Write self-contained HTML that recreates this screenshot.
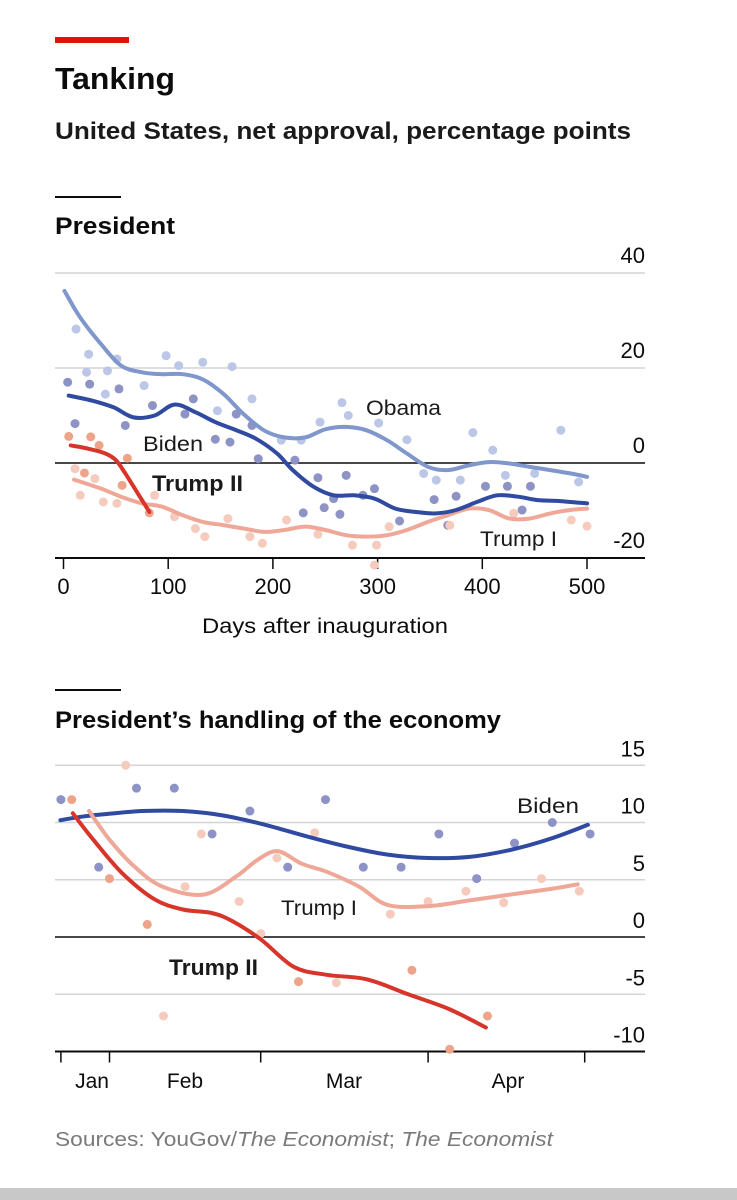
<!DOCTYPE html>
<html><head><meta charset="utf-8"><style>
html,body{margin:0;padding:0;background:#fff;}
svg{display:block;}
text{font-family:"Liberation Sans Narrow","Liberation Sans",sans-serif;}
</style></head><body>
<svg id="s" width="737" height="1200" viewBox="0 0 737 1200">
<rect x="0" y="0" width="737" height="1200" fill="#fff"/>
<rect x="55" y="37" width="74" height="6" fill="#e3120b"/>
<text x="55" y="89" font-size="31" font-weight="bold" fill="#0c0c0c" textLength="120" lengthAdjust="spacingAndGlyphs">Tanking</text>
<text x="55" y="139" font-size="24" font-weight="bold" fill="#1a1a1a" textLength="576" lengthAdjust="spacingAndGlyphs">United States, net approval, percentage points</text>
<rect x="55" y="196" width="66" height="2" fill="#0c0c0c"/>
<text x="55" y="234" font-size="24" font-weight="bold" fill="#0c0c0c" textLength="120" lengthAdjust="spacingAndGlyphs">President</text>
<rect x="55" y="689" width="66" height="2" fill="#0c0c0c"/>
<text x="55" y="728" font-size="24" font-weight="bold" fill="#0c0c0c" textLength="446" lengthAdjust="spacingAndGlyphs">President’s handling of the economy</text>
<text x="55" y="1146" font-size="20" fill="#7a7a7a" textLength="498" lengthAdjust="spacingAndGlyphs">Sources: YouGov/<tspan font-style="italic">The Economist</tspan>; <tspan font-style="italic">The Economist</tspan></text>
<rect x="0" y="1188" width="737" height="12" fill="#c8c8c8"/>
<g id="c1"></g>
<g id="c2"></g>
</svg>
<script>
// ---- Chart 1 data (day, net approval) ----
const c1Ticks = [0,100,200,300,400,500];
const c1YTicks = [40,20,0,-20];
const obamaLine = [[1,36.2],[16,30.6],[36,25.0],[55,20.5],[75,19.1],[94,18.7],[114,18.7],[133,17.6],[153,14.5],[172,10.3],[192,6.8],[211,5.4],[231,5.4],[250,7.1],[270,7.6],[289,6.9],[309,4.8],[328,2.0],[348,-0.8],[367,-1.5],[387,-0.5],[406,0.2],[426,-0.1],[445,-0.8],[465,-1.5],[484,-2.2],[500,-2.9]];
const bidenLine = [[5,14.2],[28,13.1],[48,11.7],[67,9.6],[87,10.0],[106,12.3],[126,10.7],[145,8.6],[165,6.9],[184,5.1],[204,2.0],[219,-1.5],[239,-5.0],[258,-6.8],[278,-6.8],[297,-7.5],[317,-9.6],[336,-10.3],[356,-10.6],[375,-9.9],[395,-8.2],[414,-6.8],[434,-7.1],[453,-7.8],[473,-8.0],[500,-8.5]];
const trump1Line = [[10,-3.5],[36,-5.4],[55,-7.1],[75,-8.5],[94,-9.2],[114,-11.0],[133,-12.4],[153,-13.1],[172,-13.8],[192,-14.5],[211,-14.1],[231,-13.4],[250,-14.1],[270,-15.2],[289,-15.5],[309,-15.2],[328,-14.1],[348,-12.4],[367,-11.0],[387,-9.6],[406,-9.9],[426,-11.7],[445,-11.7],[465,-10.6],[484,-9.9],[500,-9.6]];
const trump2Line = [[7,3.7],[24,3.0],[40,2.0],[50,0.6],[59,-2.2],[71,-6.4],[82,-10.3]];
const obamaDots = [[24,22.9],[51,21.9],[98,22.6],[133,21.2],[161,20.3],[110,20.5],[22,19.1],[42,19.4],[77,16.3],[147,11.0],[180,13.5],[266,12.7],[272,10.0],[245,8.6],[301,8.4],[328,4.9],[391,6.4],[410,2.7],[475,6.9],[356,-3.6],[379,-3.6],[422,-2.6],[450,-2.2],[492,-4.0],[344,-2.2],[208,4.8],[12,28.2],[227,4.8],[40,14.5]];
const bidenDots = [[4,17.0],[25,16.6],[53,15.6],[85,12.1],[124,13.5],[116,10.3],[11,8.3],[59,7.9],[145,5.0],[159,4.4],[165,10.3],[180,7.9],[186,0.9],[221,0.6],[243,-3.1],[258,-7.5],[270,-2.6],[229,-10.5],[249,-9.4],[264,-10.8],[286,-6.8],[297,-5.4],[321,-12.2],[354,-7.7],[375,-7.0],[403,-4.9],[424,-4.9],[446,-4.9],[438,-9.9],[367,-13.1]];
const trump1Dots = [[16,-6.8],[38,-8.2],[51,-8.5],[87,-6.8],[106,-11.3],[126,-13.8],[135,-15.5],[157,-11.7],[178,-15.5],[190,-16.9],[213,-12.0],[243,-15.0],[276,-17.3],[299,-17.3],[297,-21.5],[311,-13.4],[369,-13.1],[430,-10.6],[485,-12.0],[500,-13.3],[30,-3.3],[11,-1.2]];
const trump2Dots = [[5,5.6],[26,5.5],[34,3.7],[61,1.0],[56,-4.7],[20,-2.1],[82,-10.5]];

// ---- Chart 2 data (day of year, net approval on economy) ----
const c2Ticks = [23,32,60,91,120];
const c2Months = ["Jan","Feb","Mar","Apr"];
const c2YTicks = [15,10,5,0,-5,-10];
const biden2Line = [[22.9,10.2],[26.7,10.5],[30.5,10.7],[38.1,11.0],[45.6,11.0],[53.2,10.6],[60.8,9.8],[68.4,8.8],[75.9,7.9],[83.5,7.2],[91.1,6.9],[98.7,7.0],[106.2,7.6],[113.8,8.6],[120.6,9.8]];
const trump1b2Line = [[28.2,11.0],[32,8.5],[36.5,6.2],[41.8,4.4],[49.4,3.7],[55.5,5.3],[59.3,6.7],[63.1,7.5],[67.6,6.4],[72.2,5.7],[78.2,4.4],[83.5,2.8],[91.1,2.7],[98.7,3.2],[106.2,3.7],[113.8,4.2],[118.7,4.6]];
const trump2b2Line = [[25.2,10.8],[29,8.5],[34.3,5.6],[40.3,3.3],[45.6,2.4],[50.9,2.1],[54.7,1.4],[60,-0.2],[66.1,-2.6],[72.2,-3.3],[79.7,-3.7],[87.3,-5.0],[94.9,-6.3],[101.7,-7.9]];
const biden2Dots = [[23,12.0],[37,13.0],[44,13.0],[30,6.1],[51,9.0],[58,11.0],[65,6.1],[72,12.0],[79,6.1],[86,6.1],[93,9.0],[100,5.1],[107,8.2],[114,10.0],[121,9.0]];
const trump1b2Dots = [[35,15.0],[49,9.0],[56,3.1],[42,-6.9],[63,6.9],[70,9.1],[74,-4.0],[84,2.0],[91,3.1],[98,4.0],[105,3.0],[112,5.1],[119,4.0],[60,0.3],[46,4.4]];
const trump2b2Dots = [[25,12.0],[32,5.1],[39,1.1],[67,-3.9],[88,-2.9],[95,-9.8],[102,-6.9]];

const NS = "http://www.w3.org/2000/svg";
function mk(parent, tag, attrs){const e=document.createElementNS(NS,tag);for(const k in attrs)e.setAttribute(k,attrs[k]);parent.appendChild(e);return e;}
function smooth(pts){
  let d="M"+pts[0][0].toFixed(1)+","+pts[0][1].toFixed(1);
  for(let i=0;i<pts.length-1;i++){
    const p0=pts[i-1]||pts[i],p1=pts[i],p2=pts[i+1],p3=pts[i+2]||p2;
    const c1x=p1[0]+(p2[0]-p0[0])/6,c1y=p1[1]+(p2[1]-p0[1])/6;
    const c2x=p2[0]-(p3[0]-p1[0])/6,c2y=p2[1]-(p3[1]-p1[1])/6;
    d+=" C"+c1x.toFixed(1)+","+c1y.toFixed(1)+" "+c2x.toFixed(1)+","+c2y.toFixed(1)+" "+p2[0].toFixed(1)+","+p2[1].toFixed(1);
  }
  return d;
}

// Chart 1
(function(){
  const g=document.getElementById('c1');
  const x=d=>63.5+d*1.047;
  const y=v=>463-v*4.75;
  c1YTicks.forEach(v=>{
    const isZero=v===0, isBot=v===-20;
    const l=mk(g,'line',{x1:55,x2:645,y1:y(v),y2:y(v),stroke:isZero||isBot?'#0c0c0c':'#d4d4d4','stroke-width':isZero?1.5:(isBot?2:1.5)});
    
    
    const t=mk(g,'text',{x:645,y:y(v)-10,'text-anchor':'end','font-size':22,fill:'#0c0c0c'});
    t.textContent=String(v);
    
    
  });
  c1Ticks.forEach(d=>{
    const l=mk(g,'line',{x1:x(d),x2:x(d),y1:y(-20),y2:y(-20)+11,stroke:'#0c0c0c','stroke-width':1.5});
    
    
    const t=mk(g,'text',{x:x(d),y:594,'text-anchor':'middle','font-size':22,fill:'#0c0c0c'});
    t.textContent=d;
    
    
  });
  const at=mk(g,'text',{x:325,y:633,'text-anchor':'middle','font-size':21,fill:'#0c0c0c',textLength:246,lengthAdjust:'spacingAndGlyphs'});
  at.textContent='Days after inauguration';
  
  
  const dotSets=[[obamaDots,'#bcc6e6','obama-dot'],[bidenDots,'#8e93c6','biden-dot'],[trump1Dots,'#f6cbbd','trump1-dot'],[trump2Dots,'#eea488','trump2-dot']];
  dotSets.forEach(([arr,col,nm])=>arr.forEach(p=>{
    const c=mk(g,'circle',{cx:x(p[0]),cy:y(p[1]),r:4.5,fill:col});
    
    
  }));
  const lines=[[obamaLine,'#7f97cc','obama-line'],[trump1Line,'#efa898','trump1-line'],[bidenLine,'#2f4aa0','biden-line'],[trump2Line,'#d8352a','trump2-line']];
  lines.forEach(([arr,col,nm])=>{
    const p=mk(g,'path',{d:smooth(arr.map(q=>[x(q[0]),y(q[1])])),fill:'none',stroke:col,'stroke-width':4,'stroke-linecap':'round','stroke-linejoin':'round'});
    
    
  });
  const labs=[['Obama',366,415,21,'normal',75,'obama-label'],['Biden',143,451,21,'normal',60,'biden-label'],['Trump II',152,491,22,'bold',91,'trump2-label'],['Trump I',480,546,21,'normal',77,'trump1-label']];
  labs.forEach(([s,lx,ly,fs,fw,w,nm])=>{
    const t=mk(g,'text',{x:lx,y:ly,'font-size':fs,'font-weight':fw,fill:'#1a1a1a',textLength:w,lengthAdjust:'spacingAndGlyphs'});
    t.textContent=s;
    
    
  });
})();

// Chart 2
(function(){
  const g=document.getElementById('c2');
  const x=d=>109.5+(d-32)*5.4;
  const y=v=>937-v*11.45;
  c2YTicks.forEach(v=>{
    const isZero=v===0,isBot=v===-10;
    const l=mk(g,'line',{x1:55,x2:645,y1:y(v),y2:y(v),stroke:isZero||isBot?'#0c0c0c':'#d4d4d4','stroke-width':isZero?1.5:(isBot?2:1.5)});
    
    
    const t=mk(g,'text',{x:645,y:y(v)-9,'text-anchor':'end','font-size':22,fill:'#0c0c0c'});
    t.textContent=v;
    
    
  });
  c2Ticks.forEach(d=>{
    const l=mk(g,'line',{x1:x(d),x2:x(d),y1:y(-10),y2:y(-10)+11,stroke:'#0c0c0c','stroke-width':1.5});
    
    
  });
  const monthX=[92,185,344,508];
  c2Months.forEach((m,i)=>{
    const t=mk(g,'text',{x:monthX[i],y:1088,'text-anchor':'middle','font-size':21,fill:'#0c0c0c'});
    t.textContent=m;
    
    
  });
  const dotSets=[[biden2Dots,'#8e93c6','biden-dot'],[trump1b2Dots,'#f6cbbd','trump1-dot'],[trump2b2Dots,'#eea488','trump2-dot']];
  dotSets.forEach(([arr,col,nm])=>arr.forEach(p=>{
    const c=mk(g,'circle',{cx:x(p[0]),cy:y(p[1]),r:4.5,fill:col});
    
    
  }));
  const lines=[[biden2Line,'#2f4aa0','biden-line'],[trump1b2Line,'#efa898','trump1-line'],[trump2b2Line,'#d8352a','trump2-line']];
  lines.forEach(([arr,col,nm])=>{
    const p=mk(g,'path',{d:smooth(arr.map(q=>[x(q[0]),y(q[1])])),fill:'none',stroke:col,'stroke-width':4,'stroke-linecap':'round','stroke-linejoin':'round'});
    
    
  });
  const labs=[['Biden',517,813,21,'normal',62,'biden-label'],['Trump I',281,915,21,'normal',76,'trump1-label'],['Trump II',169,975,22,'bold',89,'trump2-label']];
  labs.forEach(([s,lx,ly,fs,fw,w,nm])=>{
    const t=mk(g,'text',{x:lx,y:ly,'font-size':fs,'font-weight':fw,fill:'#1a1a1a',textLength:w,lengthAdjust:'spacingAndGlyphs'});
    t.textContent=s;
    
    
  });
})();
</script>
</body></html>
